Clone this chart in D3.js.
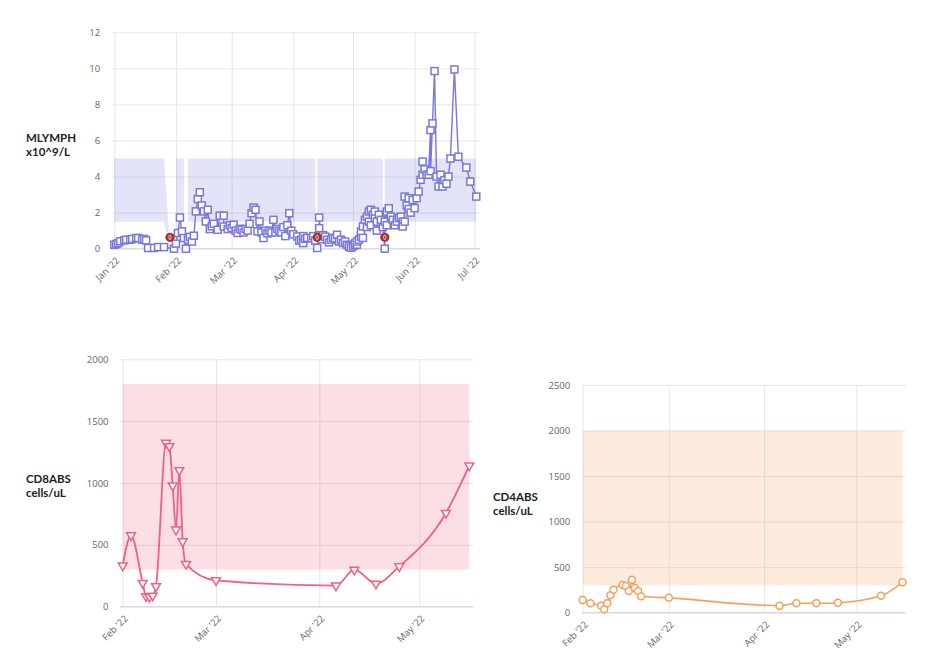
<!DOCTYPE html>
<html><head><meta charset="utf-8">
<script src="https://cdn.jsdelivr.net/npm/d3@7"></script>
<style>body{margin:0;background:#fff}svg{display:block}</style>
</head><body>
<svg id="c" width="938" height="672"></svg>
<script>
// ---------------- DATA ----------------
const mlymphData = [
["2022-01-01",0.22],["2022-01-02",0.26],["2022-01-03",0.31],["2022-01-04",0.41],["2022-01-06",0.46],["2022-01-07",0.50],["2022-01-09",0.50],["2022-01-10",0.54],["2022-01-12",0.59],["2022-01-13",0.59],["2022-01-15",0.50],["2022-01-16",0.54],["2022-01-17",0.46],["2022-01-18",0.04],["2022-01-21",0.04],["2022-01-23",0.09],["2022-01-26",0.09],["2022-01-31",0.00],
["2022-02-01",0.28],["2022-02-02",0.87],["2022-02-03",1.73],["2022-02-04",0.96],["2022-02-05",0.59],["2022-02-06",0.00],["2022-02-07",0.50],["2022-02-08",0.65],["2022-02-09",0.40],["2022-02-10",0.72],["2022-02-11",2.07],["2022-02-12",2.75],["2022-02-13",3.13],["2022-02-14",2.40],["2022-02-15",2.07],["2022-02-16",1.51],["2022-02-17",2.16],["2022-02-18",1.09],["2022-02-19",1.24],["2022-02-20",1.38],["2022-02-22",1.05],["2022-02-23",1.83],["2022-02-25",1.83],["2022-02-25",1.23],["2022-02-27",1.09],["2022-02-28",1.30],
["2022-03-01",1.15],["2022-03-02",1.33],["2022-03-03",1.00],["2022-03-04",0.87],["2022-03-05",1.10],["2022-03-06",1.05],["2022-03-07",0.90],["2022-03-08",1.10],["2022-03-09",1.00],["2022-03-10",1.38],["2022-03-11",1.97],["2022-03-12",2.28],["2022-03-13",2.16],["2022-03-14",0.96],["2022-03-15",1.51],["2022-03-16",0.90],["2022-03-17",0.59],["2022-03-18",1.00],["2022-03-19",0.85],["2022-03-20",1.00],["2022-03-21",0.90],["2022-03-22",1.60],["2022-03-23",0.90],["2022-03-24",1.10],["2022-03-25",1.00],["2022-03-26",0.90],["2022-03-27",1.20],["2022-03-28",0.70],["2022-03-29",1.30],["2022-03-30",1.97],["2022-03-31",1.00],
["2022-04-01",0.80],["2022-04-03",0.68],["2022-04-04",0.45],["2022-04-05",0.50],["2022-04-06",0.70],["2022-04-06",0.31],["2022-04-07",0.55],["2022-04-08",0.60],["2022-04-10",0.59],["2022-04-11",0.70],["2022-04-12",0.45],["2022-04-13",0.04],["2022-04-14",1.14],["2022-04-14",1.73],["2022-04-15",0.53],["2022-04-16",0.75],["2022-04-17",0.67],["2022-04-18",0.50],["2022-04-19",0.35],["2022-04-20",0.50],["2022-04-21",0.60],["2022-04-22",0.58],["2022-04-23",0.77],["2022-04-24",0.40],["2022-04-25",0.50],["2022-04-26",0.31],["2022-04-27",0.40],["2022-04-28",0.22],["2022-04-29",0.10],["2022-04-29",0.15],["2022-04-30",0.05],
["2022-05-01",0.13],["2022-05-02",0.20],["2022-05-02",0.30],["2022-05-03",0.22],["2022-05-03",0.40],["2022-05-04",0.50],["2022-05-05",0.67],["2022-05-05",0.95],["2022-05-06",0.60],["2022-05-06",1.23],["2022-05-07",1.60],["2022-05-08",1.78],["2022-05-08",1.20],["2022-05-09",2.06],["2022-05-09",1.50],["2022-05-10",2.16],["2022-05-10",1.30],["2022-05-11",1.88],["2022-05-12",1.70],["2022-05-12",2.06],["2022-05-13",1.50],["2022-05-13",1.00],["2022-05-14",1.88],["2022-05-15",1.60],["2022-05-16",1.20],["2022-05-17",0.00],["2022-05-17",1.50],["2022-05-18",2.06],["2022-05-18",1.30],["2022-05-19",2.24],["2022-05-20",1.78],["2022-05-21",1.60],["2022-05-22",1.30],["2022-05-23",1.50],["2022-05-24",1.70],["2022-05-25",1.78],["2022-05-26",1.50],["2022-05-26",1.23],["2022-05-27",1.50],["2022-05-27",2.89],["2022-05-28",2.40],["2022-05-29",2.20],["2022-05-29",2.80],["2022-05-30",2.00],["2022-05-31",2.70],
["2022-06-01",2.25],["2022-06-02",2.80],["2022-06-03",3.17],["2022-06-04",3.82],["2022-06-05",4.10],["2022-06-05",4.83],["2022-06-06",4.40],["2022-06-07",4.10],["2022-06-08",4.10],["2022-06-09",6.58],["2022-06-09",4.30],["2022-06-10",6.95],["2022-06-11",9.85],["2022-06-12",4.00],["2022-06-13",3.45],["2022-06-14",4.10],["2022-06-15",3.45],["2022-06-16",3.80],["2022-06-17",3.60],["2022-06-18",4.00],["2022-06-19",5.00],["2022-06-21",9.94],["2022-06-23",5.10],["2022-06-27",4.50],["2022-06-29",3.72],["2022-07-02",2.89]
];
const mlymphFlags = [["2022-01-29",0.63],["2022-04-13",0.63],["2022-05-17",0.63]];
const mlymphRange = [
["2022-01-01",1.5,5],["2022-01-26",1.5,5],["2022-01-29",0,0],["2022-01-31",null,null],
["2022-02-01",1.5,5],["2022-02-05",1.5,5],["2022-02-06",null,null],
["2022-02-07",1.5,5],["2022-04-12",1.5,5],["2022-04-13",null,null],
["2022-04-13",1.5,5],["2022-05-16",1.5,5],["2022-05-17",null,null],
["2022-05-17",1.5,5],["2022-07-02",1.5,5]
];
const mlymphYTicks = [0,2,4,6,8,10,12];
const mlymphXTicks = ["2022-01-01","2022-02-01","2022-03-01","2022-04-01","2022-05-01","2022-06-01","2022-07-01"];

const cd8Data = [["2022-02-01",332],["2022-02-03T12",577],["2022-02-07",192],["2022-02-08",84],["2022-02-09",78],["2022-02-10",89],["2022-02-11",165],["2022-02-14",1324],["2022-02-15",1297],["2022-02-16",979],["2022-02-17",623],["2022-02-18",1103],["2022-02-19",528],["2022-02-20",345],["2022-03-01",213],["2022-04-06",170],["2022-04-11T12",299],["2022-04-18",186],["2022-04-25",326],["2022-05-09",758],["2022-05-16",1141]];
const cd8Range = [["2022-02-01",300,1800],["2022-05-16",300,1800]];
const cd8YTicks = [0,500,1000,1500,2000];

const cd4Data = [["2022-02-01",139],["2022-02-03T12",103],["2022-02-07",77],["2022-02-08",37],["2022-02-09",103],["2022-02-10",191],["2022-02-11",253],["2022-02-14",304],["2022-02-15",293],["2022-02-16",238],["2022-02-17",363],["2022-02-18",270],["2022-02-19",238],["2022-02-20",180],["2022-03-01",163],["2022-04-06",77],["2022-04-11T12",103],["2022-04-18",103],["2022-04-25",110],["2022-05-09",187],["2022-05-16",334]];
const cd4Range = [["2022-02-01",300,2000],["2022-05-16",300,2000]];
const cd4YTicks = [0,500,1000,1500,2000,2500];

const cellXTicks = ["2022-02-01","2022-03-01","2022-04-01","2022-05-01"];

// ---------------- DRAW ----------------
const parse = s => d3.timeParse(s.length > 10 ? "%Y-%m-%dT%H" : "%Y-%m-%d")(s);
const svg = d3.select("#c");
svg.append("rect").attr("width",938).attr("height",672).attr("fill","#fff");
const FONT = "'Open Sans', 'Noto Sans', sans-serif";

function drawChart(c) {
  const g = svg.append("g");
  const x = d3.scaleTime().domain(c.xDomain.map(parse)).range(c.xRange);
  const y = d3.scaleLinear().domain([0, c.yMax]).range([c.bottom, c.top]);

  const ya = d3.axisLeft(y).tickValues(c.yTicks).tickFormat(d3.format("d"))
    .tickSize(-(c.right - c.left)).tickPadding(11.5);
  const yg = g.append("g").attr("transform", `translate(${c.left},0)`).call(ya);
  yg.select(".domain").remove();
  yg.selectAll("line").attr("stroke", "#e6e6e6");
  yg.selectAll("text").attr("fill", "#666").style("font-family", FONT).style("font-size", "9.5px");

  const xa = d3.axisBottom(x).tickValues(c.xTicks.map(parse)).tickFormat(d3.timeFormat("%b '%y"))
    .tickSize(-(c.bottom - c.top)).tickPadding(0);
  const xg = g.append("g").attr("transform", `translate(0,${c.bottom})`).call(xa);
  xg.select(".domain").remove();
  xg.selectAll("line").attr("stroke", "#e6e6e6");
  xg.selectAll("text").attr("y", 0).attr("dy", "0.35em").attr("text-anchor", "end")
    .attr("transform", "translate(3,10) rotate(-45)")
    .attr("fill", "#666").style("font-family", FONT).style("font-size", "9.5px");

  // reference band
  const area = d3.area().defined(d => d[1] != null)
    .x(d => x(parse(d[0]))).y0(d => y(d[1])).y1(d => y(d[2]));
  g.append("path").datum(c.range).attr("d", area)
    .attr("fill", c.color).attr("fill-opacity", 0.2);

  // axis line
  g.append("line").attr("x1", c.left).attr("x2", c.right).attr("y1", c.bottom).attr("y2", c.bottom)
    .attr("stroke", "#ccd6eb").attr("stroke-width", 1);

  // series line
  const line = d3.line().x(d => x(parse(d[0]))).y(d => y(d[1])).curve(c.curve);
  g.append("path").datum(c.data).attr("d", line).attr("fill", "none")
    .attr("stroke", c.color).attr("stroke-width", c.lineWidth).attr("stroke-linejoin", "round");

  // markers
  const mg = g.append("g");
  const pts = mg.selectAll("g").data(c.data).join("g")
    .attr("transform", d => `translate(${x(parse(d[0]))},${y(d[1])})`);
  if (c.marker === "square") {
    pts.append("rect").attr("x", -3.5).attr("y", -3.5).attr("width", 7).attr("height", 7)
      .attr("fill", "#fff").attr("stroke", c.color).attr("stroke-width", 1.5);
  } else if (c.marker === "triangle-down") {
    pts.append("path").attr("d", d3.symbol(d3.symbolTriangle, 34)())
      .attr("transform", "rotate(180)")
      .attr("fill", "#fff").attr("stroke", c.color).attr("stroke-width", 1.5);
  } else {
    pts.append("circle").attr("r", 3.5)
      .attr("fill", "#fff").attr("stroke", c.color).attr("stroke-width", 1.5);
  }

  if (c.flags) {
    const fg = g.append("g").selectAll("g").data(c.flags).join("g")
      .attr("transform", d => `translate(${x(parse(d[0]))},${y(d[1])})`);
    fg.append("circle").attr("r", 4.6).attr("fill", "#a8322a");
    fg.append("ellipse").attr("rx", 1.2).attr("ry", 2.3).attr("fill", "none")
      .attr("stroke", "#f4d0cc").attr("stroke-width", 0.9);
  }

  // axis title (two lines)
  c.title.forEach((s, i) => {
    g.append("text").attr("x", c.titleX).attr("y", c.titleY[i])
      .attr("fill", "#222").style("font-family", "Lato, 'Open Sans', sans-serif")
      .style("font-size", "11.5px").style("font-weight", 700).text(s);
  });
}

drawChart({
  left: 111.7, right: 480, top: 32.3, bottom: 248.7,
  xDomain: ["2022-01-01", "2022-07-01"], xRange: [114.3, 474.3],
  yMax: 12, yTicks: mlymphYTicks, xTicks: mlymphXTicks,
  data: mlymphData, range: mlymphRange, flags: mlymphFlags,
  color: "#7777dd", lineWidth: 1.4, curve: d3.curveLinear, marker: "square",
  title: ["MLYMPH", "x10^9/L"], titleX: 26, titleY: [141.5, 155.5]
});

drawChart({
  left: 120, right: 473.3, top: 359.3, bottom: 606.7,
  xDomain: ["2022-02-01", "2022-05-16"], xRange: [122.7, 469.3],
  yMax: 2000, yTicks: cd8YTicks, xTicks: cellXTicks,
  data: cd8Data, range: cd8Range,
  color: "#f1607f", lineWidth: 1.8, curve: d3.curveMonotoneX, marker: "triangle-down",
  title: ["CD8ABS", "cells/uL"], titleX: 26, titleY: [483, 497]
});

drawChart({
  left: 581.7, right: 905.7, top: 385, bottom: 612.7,
  xDomain: ["2022-02-01", "2022-05-16"], xRange: [582.7, 902.5],
  yMax: 2500, yTicks: cd4YTicks, xTicks: cellXTicks,
  data: cd4Data, range: cd4Range,
  color: "#f4a05a", lineWidth: 1.6, curve: d3.curveMonotoneX, marker: "circle",
  title: ["CD4ABS", "cells/uL"], titleX: 493, titleY: [500.5, 514.5]
});
</script>
</body></html>
